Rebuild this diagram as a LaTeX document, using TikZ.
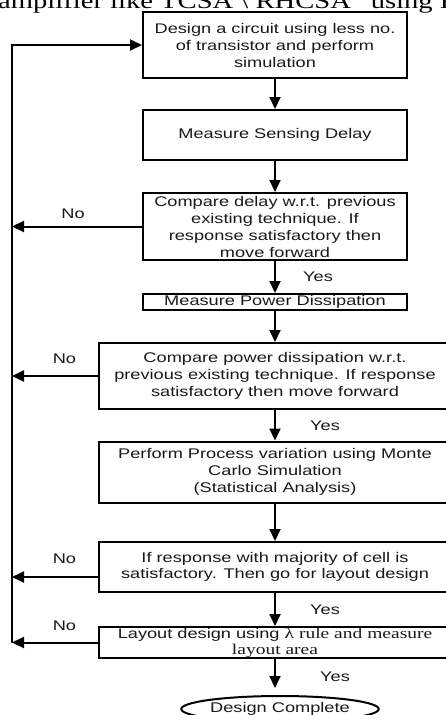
\documentclass[tikz,border=0pt]{standalone}
\usepackage{fontspec}
\setmainfont[FakeStretch=1.3]{Liberation Sans}
\newfontfamily\timesfont[FakeStretch=1.3]{Liberation Serif}
\usetikzlibrary{arrows.meta,shapes.geometric}

\begin{document}
\begin{tikzpicture}[x=1pt, y=-1pt,
  box/.style={draw, line width=2pt, align=center, inner sep=0pt, text=black!90,
    font=\fontsize{14}{17}\selectfont},
  lbl/.style={text=black!90, font=\fontsize{14}{17}\selectfont},
  arr/.style={line width=2pt, -{Triangle[length=12pt,width=11pt]}}]
  \useasboundingbox (0,0) rectangle (446,715);
  \node [anchor=base west, inner sep=0pt, font=\timesfont\fontsize{22}{25}\selectfont] (caption) at (-2,8) {amplifier like TCSA \textbackslash\ RHCSA” using PH};

  \node [box, minimum width=264pt, minimum height=66pt] (design) at (275,45) {Design a circuit using less no.\\ of transistor and perform\\ simulation};
  \node [box, minimum width=264pt, minimum height=50pt] (sense) at (275,135) {Measure Sensing Delay};
  \node [box, minimum width=264pt, minimum height=67pt] (cmpdelay) at (275,226.5) {Compare delay w.r.t. previous\\ existing technique. If\\ response satisfactory then\\ move forward};
  \node [box, minimum width=264pt, minimum height=16pt] (power) at (275,302) {Measure Power Dissipation};
  \node [box, minimum width=352pt, minimum height=66pt] (cmppower) at (275,376) {Compare power dissipation w.r.t.\\ previous existing technique. If response\\ satisfactory then move forward};
  \node [box, minimum width=352pt, minimum height=61pt] (monte) at (275,472) {Perform Process variation using Monte\\ Carlo Simulation\\ (Statistical Analysis)};
  \node [box, minimum width=352pt, minimum height=50pt, font=\fontsize{14}{16}\selectfont] (major) at (275,567) {If response with majority of cell is\\ satisfactory. Then go for layout design};
  \node [box, minimum width=352pt, minimum height=31pt, font=\fontsize{14}{16}\selectfont] (layout) at (275,642.5) {Layout design using {\timesfont\fontsize{15}{16}\selectfont λ rule and measure}\\ {\timesfont\fontsize{15}{16}\selectfont layout area}};
  \node [draw, ellipse, line width=2pt, minimum width=185pt, minimum height=26pt, inner sep=0pt, lbl] (done) at (280,709) {Design Complete};

  \coordinate (loop) at (12,45);
  \coordinate (majout) at ([yshift=-10pt]major.west);

  \draw [arr] (design) -- (sense);
  \draw [arr] (sense) -- (cmpdelay);
  \draw [arr] (cmpdelay) -- node [lbl, xshift=43pt] {Yes} (power);
  \draw [arr] (power) -- (cmppower);
  \draw [arr] (cmppower) -- node [lbl, xshift=50pt] {Yes} (monte);
  \draw [arr] (monte) -- (major);
  \draw [arr] (major) -- node [lbl, xshift=50pt] {Yes} (layout);
  \draw [arr, shorten >=7pt] (layout) -- node [lbl, xshift=60pt] {Yes} (layout.south |- done.north);

  \draw [arr] (cmpdelay) -- node [lbl, pos=0.53, yshift=13pt] {No} (cmpdelay -| loop);
  \draw [arr] (cmppower) -- node [lbl, pos=0.39, yshift=17pt] {No} (cmppower -| loop);
  \draw [arr] (majout) -- node [lbl, pos=0.39, yshift=18pt] {No} (majout -| loop);
  \draw [arr] (layout) -- node [lbl, pos=0.39, yshift=17pt] {No} (layout -| loop);
  \draw [arr] (layout -| loop) -- (loop) -- (design);
\end{tikzpicture}
\end{document}
